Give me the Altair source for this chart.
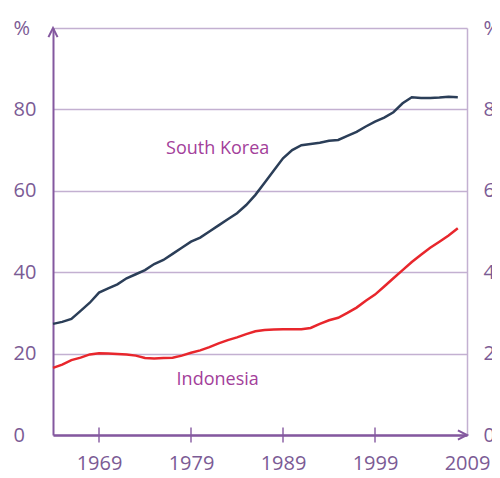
import altair as alt
import pandas as pd

YEARS = list(range(1964, 2009))
SOUTH_KOREA = [27.3, 27.8, 28.5, 30.5, 32.5, 35.0, 36.0, 37.0, 38.5, 39.5,
               40.5, 42.0, 43.0, 44.5, 46.0, 47.5, 48.5, 50.0, 51.5, 53.0,
               54.5, 56.5, 59.0, 62.0, 65.0, 68.0, 70.0, 71.2, 71.5, 71.8,
               72.3, 72.5, 73.5, 74.5, 75.8, 77.0, 78.0, 79.3, 81.5, 83.0,
               82.8, 82.8, 82.9, 83.1, 83.0]
INDONESIA = [16.5, 17.3, 18.4, 19.0, 19.8, 20.1, 20.0, 19.9, 19.8, 19.5,
             18.9, 18.8, 18.9, 19.0, 19.5, 20.2, 20.8, 21.6, 22.5, 23.3,
             24.0, 24.8, 25.5, 25.8, 25.9, 26.0, 26.0, 26.0, 26.3, 27.3,
             28.2, 28.8, 30.0, 31.3, 33.0, 34.5, 36.5, 38.5, 40.5, 42.5,
             44.3, 46.0, 47.5, 49.0, 50.8]
COUNTRIES = ["South Korea", "Indonesia"]
X_DOMAIN = [1964, 2009]
Y_DOMAIN = [0, 100]
X_LABELS = [1969, 1979, 1989, 1999, 2009]
X_TICKS = [1969, 1979, 1989, 1999]
Y_LABELS = [0, 20, 40, 60, 80, 100]
ANNOT_TEXT = ["South Korea", "Indonesia"]
ANNOT_X = [1981.9, 1981.9]
ANNOT_Y = [70.3, 13.5]

df = pd.DataFrame({
    "year": YEARS * 2,
    "value": SOUTH_KOREA + INDONESIA,
    "country": [COUNTRIES[0]] * len(YEARS) + [COUNTRIES[1]] * len(YEARS),
})
ticks_df = pd.DataFrame({"year": X_TICKS, "value": [Y_DOMAIN[0]] * len(X_TICKS)})
up_arrow_df = pd.DataFrame({"year": [X_DOMAIN[0]], "value": [Y_DOMAIN[1]]})
right_arrow_df = pd.DataFrame({"year": [X_DOMAIN[1]], "value": [Y_DOMAIN[0]]})
annot_df = pd.DataFrame({"year": ANNOT_X, "value": ANNOT_Y, "text": ANNOT_TEXT})

AXIS_PURPLE = "#84589f"
GRID = "#c3b0d1"
LABEL = "#7b5b95"
ANNOT = "#a3409a"
FONT_AX = "Open Sans"

xscale = alt.Scale(domain=X_DOMAIN, nice=False, zero=False)
yscale = alt.Scale(domain=Y_DOMAIN, nice=False)

x_axis = alt.Axis(values=X_LABELS, format="d", grid=False, ticks=False, tickSize=0,
                  domainColor=AXIS_PURPLE, domainWidth=2.5, labelFont=FONT_AX,
                  labelFontSize=20, labelColor=LABEL, labelPadding=18,
                  labelFlush=False, labelOverlap=False, title=None)
left_axis = alt.Axis(values=Y_LABELS, grid=True, gridColor=GRID, gridWidth=1.5,
                     ticks=False, tickSize=0, domainColor=AXIS_PURPLE, domainWidth=2,
                     labelAlign="left", labelBaseline="middle", labelPadding=40,
                     labelFont=FONT_AX, labelFontSize=20, labelColor=LABEL,
                     labelFlush=False, labelOverlap=False,
                     labelExpr="datum.value == 100 ? '%' : datum.label", title=None)
right_axis = alt.Axis(orient="right", values=Y_LABELS, grid=False, ticks=False, tickSize=0,
                      domainColor=GRID, domainWidth=1.5,
                      labelAlign="left", labelBaseline="middle", labelPadding=16,
                      labelFont=FONT_AX, labelFontSize=20, labelColor=LABEL,
                      labelFlush=False, labelOverlap=False,
                      labelExpr="datum.value == 100 ? '%' : datum.label", title=None)

X = alt.X("year:Q", scale=xscale, axis=x_axis)

lines = alt.Chart(df).mark_line(strokeWidth=2.5).encode(
    x=X,
    y=alt.Y("value:Q", scale=yscale, axis=left_axis),
    color=alt.Color("country:N", scale=alt.Scale(domain=COUNTRIES, range=["#2b3e58", "#e8262c"]),
                    legend=None),
    detail="country:N",
)
right = alt.Chart(df).mark_line(opacity=0).encode(
    x=X,
    y=alt.Y("value:Q", scale=yscale, axis=right_axis),
    detail="country:N",
)
ticks = alt.Chart(ticks_df).mark_tick(orient="vertical", size=15, thickness=2,
                                      color=AXIS_PURPLE).encode(
    x=X, y=alt.Y("value:Q", scale=yscale, axis=None))
up_arrow = alt.Chart(up_arrow_df).mark_point(
    shape="M-0.65,1.3L0,0L0.65,1.3", size=196, filled=False, strokeWidth=2,
    color=AXIS_PURPLE, opacity=1).encode(
    x=X, y=alt.Y("value:Q", scale=yscale, axis=None))
right_arrow = alt.Chart(right_arrow_df).mark_point(
    shape="M-1.3,-0.65L0,0L-1.3,0.65", size=196, filled=False, strokeWidth=2,
    color=AXIS_PURPLE, opacity=1).encode(
    x=X, y=alt.Y("value:Q", scale=yscale, axis=None))
annot = alt.Chart(annot_df).mark_text(font="Open Sans", fontSize=18, color=ANNOT).encode(
    x=X, y=alt.Y("value:Q", scale=yscale, axis=None), text="text:N")

chart = alt.layer(lines, right, ticks, up_arrow, right_arrow, annot).resolve_axis(
    y="independent"
).properties(
    width=414, height=407,
    autosize=alt.AutoSizeParams(type="none"),
    padding={"left": 45, "top": 20, "right": 25, "bottom": 40},
    background="white",
).configure_view(stroke=None)

chart.save("out.html", embed_options={"renderer": "svg", "actions": False})
